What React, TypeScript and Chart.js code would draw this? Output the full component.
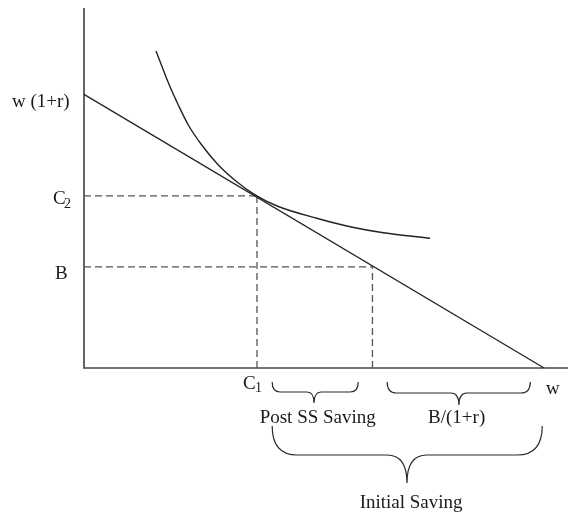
import React, { useEffect, useRef } from "react";
import { Chart, registerables } from "chart.js";

Chart.register(...registerables);

// ---- values ----
const W_VALUE = 100; // x-intercept of the budget line (w)
const W1R_VALUE = 76; // y-intercept of the budget line (w(1+r))
const C1_VALUE = 37.6;
const C2_VALUE = 47.8;
const B_VALUE = 28.1;
const B_X_VALUE = 62.7;

const CURVE_X = [15.65, 18.54, 20.5, 22.67, 25.59, 29.2, 33.2, 37.54, 42.24, 50.57, 57.83, 65.07, 75.22];
const CURVE_Y = [88.06, 78.61, 73.06, 67.5, 61.94, 56.39, 51.75, 47.8, 44.86, 41.6, 39.25, 37.58, 36.03];

const BOTTOM_LABELS = ["Post SS Saving", "B/(1+r)", "Initial Saving"];
const BOTTOM_LABEL_X = [50.8, 81.0, 71.1];
const BRACE_START = [40.9, 65.9, 40.9];
const BRACE_END = [59.6, 97.0, 99.6];
const BRACE_TIP = [50.0, 81.5, 70.2];

const X_MAX = 105.2;
const Y_MAX = 100;

const FONT = "Liberation Serif, 'Times New Roman', serif";
const TEXT_COLOR = "#1a1a1a";

function drawBrace(
  ctx: CanvasRenderingContext2D,
  x1: number,
  x2: number,
  xm: number,
  yt: number,
  ym: number,
  yb: number,
  rEnd: number,
  rTip: number
) {
  ctx.beginPath();
  ctx.moveTo(x1, yt);
  ctx.quadraticCurveTo(x1, ym, x1 + rEnd, ym);
  ctx.lineTo(xm - rTip, ym);
  ctx.quadraticCurveTo(xm, ym, xm, yb);
  ctx.moveTo(x2, yt);
  ctx.quadraticCurveTo(x2, ym, x2 - rEnd, ym);
  ctx.lineTo(xm + rTip, ym);
  ctx.quadraticCurveTo(xm, ym, xm, yb);
  ctx.stroke();
}

const diagramPlugin = {
  id: "diagram",
  beforeDatasetsDraw(chart: any) {
    const { ctx, chartArea } = chart;
    ctx.save();
    ctx.strokeStyle = "#4a4a4a";
    ctx.lineWidth = 1.7;
    ctx.beginPath();
    ctx.moveTo(chartArea.left, chartArea.top);
    ctx.lineTo(chartArea.left, chartArea.bottom);
    ctx.lineTo(chartArea.right, chartArea.bottom);
    ctx.stroke();
    ctx.restore();
  },
  afterDatasetsDraw(chart: any) {
    const { ctx, chartArea, scales } = chart;
    const xs = scales.x;
    const ys = scales.y;
    const L = chartArea.left;
    const axisY = chartArea.bottom;
    ctx.save();
    ctx.fillStyle = TEXT_COLOR;
    ctx.textBaseline = "alphabetic";
    ctx.textAlign = "left";
    const big = `19px ${FONT}`;
    const sub = `14px ${FONT}`;

    // left labels
    ctx.font = big;
    ctx.fillText("w (1+r)", L - 72, ys.getPixelForValue(W1R_VALUE) + 12.5);
    const c2y = ys.getPixelForValue(C2_VALUE);
    ctx.fillText("C", L - 31, c2y + 8);
    ctx.font = sub;
    ctx.fillText("2", L - 20, c2y + 12);
    ctx.font = big;
    ctx.fillText("B", L - 29, ys.getPixelForValue(B_VALUE) + 12);

    // bottom labels
    const c1x = xs.getPixelForValue(C1_VALUE);
    ctx.fillText("C", c1x - 14, axisY + 21);
    ctx.font = sub;
    ctx.fillText("1", c1x - 2, axisY + 24);
    ctx.font = big;
    ctx.fillText("w", xs.getPixelForValue(W_VALUE) + 2, axisY + 26);

    ctx.textAlign = "center";
    const labelY = [axisY + 55, axisY + 55, axisY + 140];
    BOTTOM_LABELS.forEach((t, i) => {
      ctx.fillText(t, xs.getPixelForValue(BOTTOM_LABEL_X[i]), labelY[i]);
    });

    // braces
    ctx.strokeStyle = "#2a2a2a";
    ctx.lineWidth = 1.2;
    const geo = [
      { yt: axisY + 14, ym: axisY + 24, yb: axisY + 35, rEnd: 8, rTip: 7 },
      { yt: axisY + 14, ym: axisY + 25, yb: axisY + 37, rEnd: 9, rTip: 8 },
      { yt: axisY + 58, ym: axisY + 87, yb: axisY + 115, rEnd: 25, rTip: 20 },
    ];
    BRACE_START.forEach((s, i) => {
      const g = geo[i];
      drawBrace(
        ctx,
        xs.getPixelForValue(s),
        xs.getPixelForValue(BRACE_END[i]),
        xs.getPixelForValue(BRACE_TIP[i]),
        g.yt,
        g.ym,
        g.yb,
        g.rEnd,
        g.rTip
      );
    });
    ctx.restore();
  },
};

export default function App() {
  const canvasRef = useRef<HTMLCanvasElement | null>(null);

  useEffect(() => {
    if (!canvasRef.current) return;
    const dashed = {
      borderColor: "#555555",
      borderWidth: 1.3,
      borderDash: [7, 4],
      pointRadius: 0,
      clip: false as any,
      fill: false,
    };
    const chart = new Chart(canvasRef.current, {
      type: "line",
      data: {
        datasets: [
          {
            label: "budget",
            data: [
              { x: 0, y: W1R_VALUE },
              { x: W_VALUE, y: 0 },
            ],
            borderColor: "#222222",
            borderWidth: 1.3,
            pointRadius: 0,
            clip: false as any,
          },
          {
            label: "indifference",
            data: CURVE_X.map((x, i) => ({ x, y: CURVE_Y[i] })),
            borderColor: "#222222",
            borderWidth: 1.4,
            pointRadius: 0,
            cubicInterpolationMode: "monotone",
            clip: false as any,
          },
          {
            label: "c2h",
            data: [
              { x: 0, y: C2_VALUE },
              { x: C1_VALUE, y: C2_VALUE },
            ],
            ...dashed,
          },
          {
            label: "c1v",
            data: [
              { x: C1_VALUE, y: 0 },
              { x: C1_VALUE, y: C2_VALUE },
            ],
            ...dashed,
          },
          {
            label: "bh",
            data: [
              { x: 0, y: B_VALUE },
              { x: B_X_VALUE, y: B_VALUE },
            ],
            ...dashed,
          },
          {
            label: "bv",
            data: [
              { x: B_X_VALUE, y: 0 },
              { x: B_X_VALUE, y: B_VALUE },
            ],
            ...dashed,
          },
        ] as any,
      },
      options: {
        animation: false,
        responsive: false,
        devicePixelRatio: 1,
        layout: { padding: { left: 84, top: 8, right: 0, bottom: 146 } },
        plugins: { legend: { display: false }, tooltip: { enabled: false } },
        events: [],
        scales: {
          x: { type: "linear", min: 0, max: X_MAX, display: false },
          y: { type: "linear", min: 0, max: Y_MAX, display: false },
        },
      },
      plugins: [diagramPlugin],
    });
    return () => chart.destroy();
  }, []);

  return (
    <div style={{ position: "fixed", left: 0, top: 0, width: 568, height: 514, background: "#ffffff" }}>
      <canvas ref={canvasRef} width={568} height={514} style={{ display: "block" }} />
    </div>
  );
}
